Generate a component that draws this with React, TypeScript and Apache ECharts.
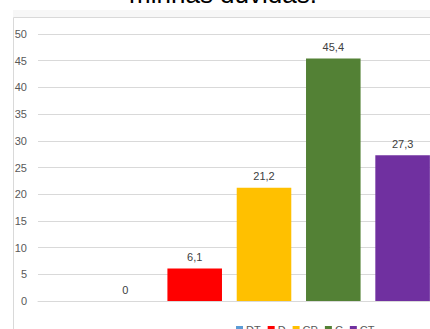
import React, { useEffect, useRef } from "react";
import * as echarts from "echarts";

const seriesNames = ["DT", "D", "CP", "C", "CT"];
const seriesValues = [0, 6.1, 21.2, 45.4, 27.3];
const seriesColors = ["#5b9bd5", "#ff0000", "#ffc000", "#538135", "#7030a0"];
const categories = [""];
const titleText = "minhas dúvidas.";

export default function App() {
  const ref = useRef<HTMLDivElement>(null);
  useEffect(() => {
    if (!ref.current) return;
    const chart = echarts.init(ref.current, undefined, { renderer: "svg" });
    const font = "'Liberation Sans', Arial, sans-serif";
    chart.setOption({
      animation: false,
      backgroundColor: "#ffffff",
      graphic: [
        { type: "rect", shape: { x: 13, y: 10, width: 500, height: 7 }, style: { fill: "#f7f7f7" }, z: -10 },
        { type: "rect", shape: { x: 13.5, y: 17.5, width: 500, height: 400 }, style: { fill: "none", stroke: "#d9d9d9", lineWidth: 1 }, z: -9 },
        {
          type: "text",
          x: 223,
          y: -6,
          style: { text: titleText, font: `26px ${font}`, fill: "#000000", align: "center", verticalAlign: "middle" },
        },
      ],
      legend: {
        data: seriesNames,
        left: 231,
        top: 319,
        itemWidth: 7,
        itemHeight: 7,
        itemGap: 7,
        icon: "rect",
        textStyle: { fontFamily: font, fontSize: 11, color: "#595959", padding: [0, 0, 0, -2] },
      },
      grid: { left: 38, right: 0, top: 34, bottom: 28, containLabel: false },
      xAxis: {
        type: "category",
        data: categories,
        axisLine: { show: true, lineStyle: { color: "#d9d9d9" } },
        axisTick: { show: false },
        axisLabel: { show: false },
      },
      yAxis: {
        type: "value",
        min: 0,
        max: 50,
        interval: 5,
        axisLine: { show: false },
        axisTick: { show: false },
        splitLine: { lineStyle: { color: "#d9d9d9" } },
        axisLabel: { margin: 11, fontFamily: font, fontSize: 11, color: "#595959" },
      },
      series: seriesNames.map((name, i) => ({
        name,
        type: "bar",
        data: [seriesValues[i]],
        itemStyle: { color: seriesColors[i] },
        barGap: "27%",
        barCategoryGap: "26.6%",
        label: {
          show: true,
          position: "top",
          distance: 6,
          fontFamily: font,
          fontSize: 11,
          color: "#404040",
          formatter: (p: any) => String(p.value).replace(".", ","),
        },
      })),
    });
    return () => chart.dispose();
  }, []);
  return (
    <div style={{ position: "absolute", left: 0, top: 0, width: 430, height: 329, overflow: "hidden" }}>
      <div ref={ref} style={{ width: 490, height: 329 }} />
    </div>
  );
}
